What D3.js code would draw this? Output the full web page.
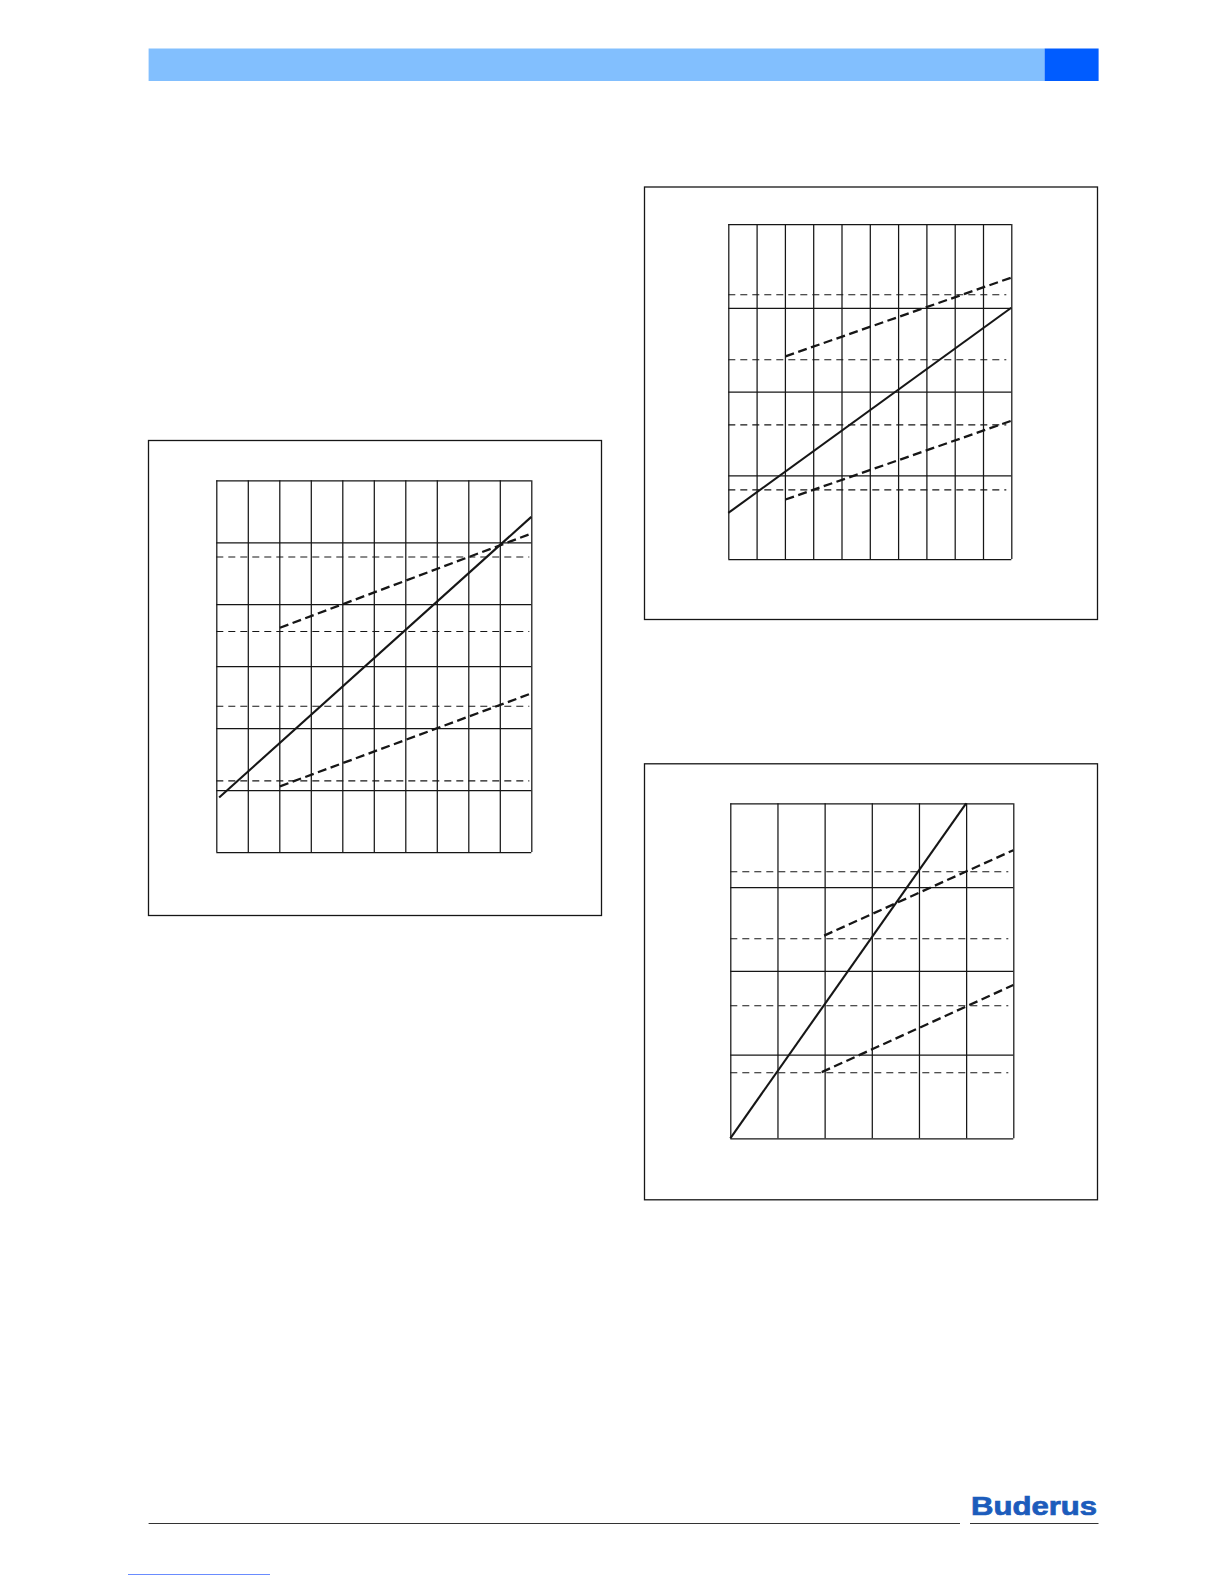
<!DOCTYPE html>
<html><head><meta charset="utf-8">
<script src="https://cdn.jsdelivr.net/npm/d3@7"></script>
<style>html,body{margin:0;padding:0;background:#fff}svg{display:block}</style>
</head><body>
<svg id="page" width="1224" height="1584"></svg>
<script>
// ---------- data (chart units: x = grid columns, y = grid rows) ----------
const chart1Columns = [0,1,2,3,4,5,6,7,8,9,10];
const chart1Rows = [0,1,2,3,4,5,6];
const chart1SecondaryTicks = [1,2,3,4];
const chart1SecondaryDomain = [0.04, 5.02];
const chart1Solid = [[0.09,0.88],[10,5.41]];
const chart1UpperDashed = [[2.02,3.62],[10,5.14]];
const chart1LowerDashed = [[2.02,1.06],[10,2.56]];

const chart2Columns = [0,1,2,3,4,5,6,7,8,9,10];
const chart2Rows = [0,1,2,3,4];
const chart2SecondaryTicks = [1,2,3,4];
const chart2SecondaryDomain = [-0.07, 5.08];
const chart2Solid = [[0,0.55],[10,3.0]];
const chart2UpperDashed = [[2.02,2.42],[10,3.36]];
const chart2LowerDashed = [[2.02,0.71],[10,1.65]];

const chart3Columns = [0,1,2,3,4,5,6];
const chart3Rows = [0,1,2,3,4];
const chart3SecondaryTicks = [1,2,3,4];
const chart3SecondaryDomain = [0.015, 5.015];
const chart3Solid = [[0,0],[5,4]];
const chart3UpperDashed = [[1.99,2.42],[6,3.44]];
const chart3LowerDashed = [[1.94,0.79],[6,1.83]];

const logoText = "Buderus";

// ---------- layout ----------
const svg = d3.select("#page");
const ink = "#161616";

// header bar
svg.append("rect").attr("x",148.6).attr("y",48.5).attr("width",896).attr("height",32.5).attr("fill","#82bffe");
svg.append("rect").attr("x",1044.6).attr("y",48.5).attr("width",54).attr("height",32.5).attr("fill","#005cff");

function drawChart(cfg){
  const g = svg.append("g");
  // outer frame
  g.append("rect").attr("x",cfg.box.x+0.5).attr("y",cfg.box.y+0.5)
    .attr("width",cfg.box.w).attr("height",cfg.box.h)
    .attr("fill","none").attr("stroke",ink).attr("stroke-width",1.3);

  const p = cfg.plot;
  const x = d3.scaleLinear().domain(d3.extent(cfg.cols)).range([p.x, p.x+p.w]);
  const y = d3.scaleLinear().domain(d3.extent(cfg.rows)).range([p.y+p.h, p.y]);
  const y2 = d3.scaleLinear().domain(cfg.y2Domain).range([p.y+p.h, p.y]);

  // vertical grid
  const gx = g.append("g").attr("transform",`translate(0,${p.y+p.h})`)
    .call(d3.axisBottom(x).tickValues(cfg.cols).tickSize(-p.h).tickFormat(""));
  gx.select(".domain").remove();
  gx.selectAll("line").attr("stroke",ink).attr("stroke-width",1.25);

  // horizontal grid
  const gy = g.append("g").attr("transform",`translate(${p.x},0)`)
    .call(d3.axisLeft(y).tickValues(cfg.rows).tickSize(-p.w).tickFormat(""));
  gy.select(".domain").remove();
  gy.selectAll("line").attr("stroke",ink).attr("stroke-width",1.25);

  // secondary dashed grid
  const gy2 = g.append("g").attr("transform",`translate(${p.x},0)`)
    .call(d3.axisRight(y2).tickValues(cfg.y2Ticks).tickSize(p.w - cfg.dashTrim).tickFormat(""));
  gy2.select(".domain").remove();
  gy2.selectAll("line").attr("stroke",ink).attr("stroke-width",1.1)
    .attr("stroke-dasharray","7,5");

  const line = d3.line().x(d=>x(d[0])).y(d=>y(d[1]));
  g.append("path").datum(cfg.solid).attr("d",line)
    .attr("fill","none").attr("stroke",ink).attr("stroke-width",2.1);
  [cfg.upper, cfg.lower].forEach(s=>{
    g.append("path").datum(s).attr("d",line)
      .attr("fill","none").attr("stroke",ink).attr("stroke-width",2.3)
      .attr("stroke-dasharray","9,4.5");
  });
}

drawChart({
  box:{x:148,y:440,w:453,h:475},
  plot:{x:216.3,y:480.3,w:315,h:371.7},
  cols:chart1Columns, rows:chart1Rows, y2Ticks:chart1SecondaryTicks, y2Domain:chart1SecondaryDomain,
  solid:chart1Solid, upper:chart1UpperDashed, lower:chart1LowerDashed, dashTrim:2
});
drawChart({
  box:{x:644,y:186.5,w:453,h:432.5},
  plot:{x:728.3,y:224,w:283,h:335},
  cols:chart2Columns, rows:chart2Rows, y2Ticks:chart2SecondaryTicks, y2Domain:chart2SecondaryDomain,
  solid:chart2Solid, upper:chart2UpperDashed, lower:chart2LowerDashed, dashTrim:5
});
drawChart({
  box:{x:644,y:763.3,w:453,h:436},
  plot:{x:730.3,y:803.3,w:283,h:335},
  cols:chart3Columns, rows:chart3Rows, y2Ticks:chart3SecondaryTicks, y2Domain:chart3SecondaryDomain,
  solid:chart3Solid, upper:chart3UpperDashed, lower:chart3LowerDashed, dashTrim:5
});

// footer
svg.append("line").attr("x1",148.6).attr("x2",960).attr("y1",1523.5).attr("y2",1523.5)
  .attr("stroke","#333").attr("stroke-width",1);
svg.append("line").attr("x1",970).attr("x2",1098.5).attr("y1",1523.5).attr("y2",1523.5)
  .attr("stroke","#333").attr("stroke-width",1);
svg.append("text").attr("x",971).attr("y",1515)
  .attr("font-family","Liberation Sans, Arial, sans-serif").attr("font-weight","bold")
  .attr("font-size",25).attr("fill","#1c5cbc")
  .attr("stroke","#1c5cbc").attr("stroke-width",0.7)
  .attr("textLength",126).attr("lengthAdjust","spacingAndGlyphs")
  .text(logoText);
svg.append("line").attr("x1",128).attr("x2",270).attr("y1",1574.5).attr("y2",1574.5)
  .attr("stroke","#6a8cff").attr("stroke-width",1);
</script>
</body></html>
